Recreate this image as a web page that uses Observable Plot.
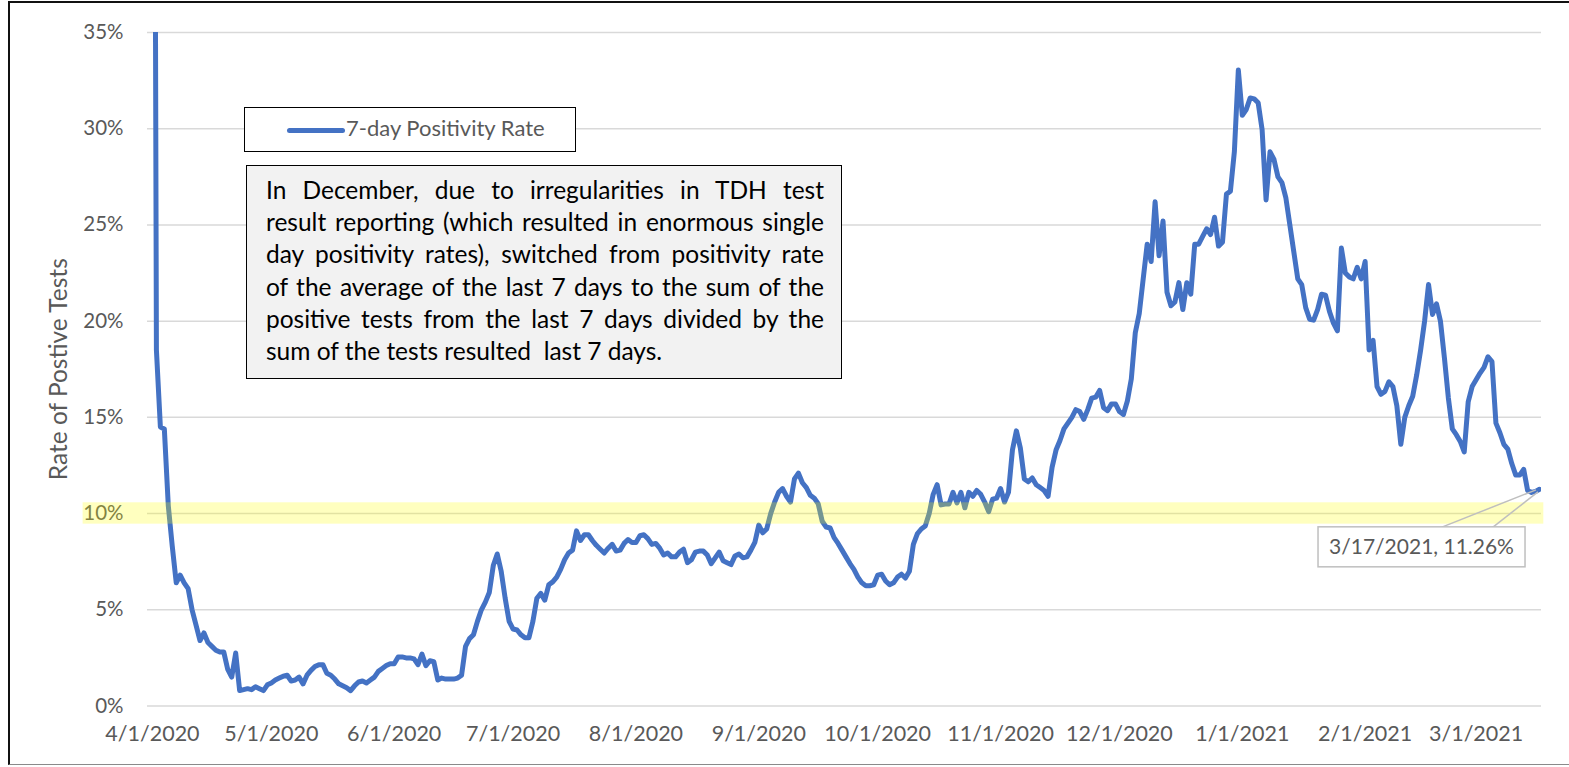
<!DOCTYPE html>
<html>
<head>
<meta charset="utf-8">
<script src="https://cdn.jsdelivr.net/npm/d3@7"></script>
<script src="https://cdn.jsdelivr.net/npm/@observablehq/plot@0.6"></script>
<style>
  html, body { margin: 0; padding: 0; background: #fff; }
  #wrap { position: relative; width: 1569px; height: 767px; overflow: hidden; font-family: Lato, "Open Sans", sans-serif; }
  #wrap svg { position: absolute; left: 0; top: 0; }
  .border { position: absolute; left: 8px; top: 1px; width: 1620px; height: 761px;
            border-left: 2px solid #111; border-top: 2px solid #111; border-bottom: 1.5px solid #8a8a8a; pointer-events: none; }
  .legend { position: absolute; left: 244px; top: 107px; width: 330px; height: 43px; border: 1.5px solid #000; background: #fff; }
  .legend .sw { position: absolute; left: 42px; top: 19.5px; width: 58px; height: 5px; background: #4472C4; border-radius: 2.5px; }
  .legend .lb { position: absolute; left: 101px; top: 7px; font-size: 22px; line-height: 1.2; color: #595959; white-space: nowrap; }
  .note { position: absolute; left: 246px; top: 165px; width: 594px; height: 212px; border: 1.5px solid #000; background: #f2f2f2; }
  .note .txt { position: absolute; left: 19px; top: 8px; width: 558px; font-size: 24.5px; line-height: 32.2px; color: #000; }
  .note .ln { white-space: nowrap; text-align: justify; text-align-last: justify; }
  .note .ln.last { text-align-last: left; }
</style>
</head>
<body>
<div id="wrap"></div>
<script>
// ---- data ----
const startDate = "2020-04-01";           // first day of the series (daily)
// 7-day positivity rate, percent, one value per day from 4/1/2020 to 3/17/2021
const rate = [
  90, 18.5, 14.5, 14.4, 10.4, 8.3, 6.4, 6.8, 6.4, 6.1,            // 0-9
  5.0, 4.2, 3.4, 3.8, 3.3, 3.1, 2.9, 2.8, 2.8, 1.9,               // 10-19
  1.5, 2.75, 0.8, 0.85, 0.9, 0.85, 1.0, 0.9, 0.8, 1.1,            // 20-29
  1.2, 1.35, 1.45, 1.55, 1.6, 1.3, 1.35, 1.5, 1.15, 1.6,          // 30-39
  1.85, 2.05, 2.15, 2.15, 1.7, 1.6, 1.4, 1.15, 1.05, 0.95,        // 40-49
  0.8, 1.05, 1.25, 1.3, 1.2, 1.35, 1.5, 1.8, 1.95, 2.1,           // 50-59
  2.2, 2.2, 2.55, 2.55, 2.5, 2.5, 2.45, 2.15, 2.7, 2.1,           // 60-69
  2.35, 2.3, 1.35, 1.45, 1.4, 1.4, 1.4, 1.45, 1.6, 3.1,           // 70-79
  3.5, 3.7, 4.4, 5.0, 5.4, 5.9, 7.3, 7.9, 7.0, 5.6,               // 80-89
  4.4, 4.0, 3.95, 3.7, 3.55, 3.55, 4.4, 5.6, 5.85, 5.5,           // 90-99
  6.3, 6.45, 6.7, 7.1, 7.6, 7.95, 8.1, 9.1, 8.6, 8.9,             // 100-109
  8.9, 8.6, 8.35, 8.15, 7.95, 8.2, 8.4, 8.05, 8.1, 8.45,          // 110-119
  8.65, 8.5, 8.5, 8.85, 8.9, 8.7, 8.4, 8.45, 8.2, 7.85,           // 120-129
  7.95, 7.75, 7.75, 8.0, 8.15, 7.45, 7.6, 8.0, 8.05, 8.05,        // 130-139
  7.85, 7.4, 7.7, 8.0, 7.55, 7.45, 7.35, 7.8, 7.9, 7.7,           // 140-149
  7.75, 8.1, 8.5, 9.4, 9.0, 9.2, 10.0, 10.6, 11.1, 11.3,          // 150-159
  10.9, 10.6, 11.8, 12.1, 11.6, 11.35, 10.95, 10.8, 10.5, 9.6,    // 160-169
  9.3, 9.25, 8.75, 8.45, 8.1, 7.75, 7.4, 7.1, 6.7, 6.4,           // 170-179
  6.25, 6.25, 6.3, 6.8, 6.85, 6.5, 6.3, 6.4, 6.7, 6.85,           // 180-189
  6.65, 7.0, 8.4, 8.95, 9.2, 9.35, 10.0, 11.0, 11.5, 10.45,       // 190-199
  10.5, 10.5, 11.1, 10.55, 11.1, 10.3, 11.1, 10.9, 11.2, 11.0,    // 200-209
  10.6, 10.1, 10.75, 10.8, 11.3, 10.6, 11.1, 13.3, 14.3, 13.4,    // 210-219
  11.8, 11.65, 11.85, 11.5, 11.35, 11.2, 10.9, 12.4, 13.3, 13.8,  // 220-229
  14.4, 14.7, 15.0, 15.4, 15.3, 14.9, 15.4, 16.0, 16.05, 16.4,    // 230-239
  15.5, 15.35, 15.7, 15.7, 15.3, 15.15, 15.85, 17.0, 19.4, 20.4,  // 240-249
  22.2, 24.0, 23.1, 26.2, 23.4, 25.2, 21.5, 20.8, 21.0, 22.0,     // 250-259
  20.6, 22.0, 21.4, 24.0, 24.0, 24.4, 24.8, 24.5, 25.4, 23.9,     // 260-269
  24.1, 26.6, 26.75, 28.8, 33.05, 30.7, 31.0, 31.6, 31.55, 31.35, // 270-279
  29.95, 26.3, 28.8, 28.4, 27.5, 27.2, 26.4, 25.0, 23.6, 22.2,    // 280-289
  21.9, 20.7, 20.1, 20.05, 20.6, 21.4, 21.35, 20.5, 19.9, 19.5,   // 290-299
  23.8, 22.5, 22.3, 22.2, 22.8, 22.2, 23.1, 18.5, 19.0, 16.6,     // 300-309
  16.2, 16.35, 16.85, 16.6, 15.6, 13.6, 15.0, 15.6, 16.1, 17.2,   // 310-319
  18.5, 20.0, 21.9, 20.35, 20.9, 20.0, 18.1, 16.0, 14.4, 14.1,    // 320-329
  13.75, 13.2, 15.8, 16.6, 16.95, 17.3, 17.6, 18.15, 17.9, 14.7,  // 330-339
  14.2, 13.6, 13.35, 12.6, 12.0, 12.0, 12.3, 11.2, 11.1, 11.15,   // 340-349
  11.26                                                            // 350
];
const monthTicks = ["2020-04-01","2020-05-01","2020-06-01","2020-07-01","2020-08-01","2020-09-01",
                    "2020-10-01","2020-11-01","2020-12-01","2021-01-01","2021-02-01","2021-03-01"];
const yTicks = [0, 0.05, 0.10, 0.15, 0.20, 0.25, 0.30, 0.35];
const xDomain = ["2020-03-30T18:00Z", "2021-03-17T12:00Z"];
// highlighted 10% band (annotation)
const bandLow = [0.0945];
const bandHigh = [0.1056];
const bandFrom = ["2020-03-14T12:00Z"];
const bandTo = ["2021-03-18T02:00Z"];
const yTitle = "Rate of Postive Tests";
const seriesName = "7-day Positivity Rate";
const noteLines = [
  "In December, due to irregularities in TDH test",
  "result reporting (which resulted in enormous single",
  "day positivity rates), switched from positivity rate",
  "of the average of the last 7 days to the sum of the",
  "positive tests from the last 7 days divided by the",
  "sum of the tests resulted\u00a0 last 7 days."
];

// ---- build ----
const start = new Date(startDate + "T00:00Z");
const data = rate.map((v, i) => ({ date: d3.utcDay.offset(start, i), value: v / 100 }));
const band = bandLow.map((lo, i) => ({ lo, hi: bandHigh[i], from: new Date(bandFrom[i]), to: new Date(bandTo[i]) }));
const fmtDate = d => `${d.getUTCMonth() + 1}/${d.getUTCDate()}/${d.getUTCFullYear()}`;
const gray = "#595959";

const chart = Plot.plot({
  width: 1569, height: 767,
  marginLeft: 147, marginRight: 28, marginTop: 32, marginBottom: 61.5,
  style: { fontFamily: "Lato, 'Open Sans', sans-serif", fontSize: "20.5px", background: "transparent", color: gray },
  x: { type: "utc", domain: xDomain.map(d => new Date(d)) },
  y: { domain: [0, 0.35] },
  marks: [
    Plot.ruleY(yTicks, { stroke: "#d9d9d9", strokeWidth: 1.5 }),
    Plot.axisY({ ticks: yTicks, tickFormat: d3.format(".0%"), tickSize: 0, tickPadding: 24, label: null, color: gray, fontSize: 20.5 }),
    Plot.axisX({ ticks: monthTicks.map(d => new Date(d + "T00:00Z")), tickFormat: fmtDate, tickSize: 0, tickPadding: 20, label: null, color: gray, fontSize: 21.5 }),
    Plot.text([yTitle], { text: d => d, frameAnchor: "left", textAnchor: "middle", dx: -88, rotate: -90, fill: gray, fontSize: 24.5 }),
    Plot.line(data, { x: "date", y: "value", stroke: "#4472C4", strokeWidth: 5, strokeLinejoin: "round", strokeLinecap: "round", clip: true }),
    Plot.rect(band, { x1: "from", x2: "to", y1: "lo", y2: "hi", fill: "#ffff00", fillOpacity: 0.25 })
  ]
});

const wrap = document.getElementById("wrap");
wrap.appendChild(chart);

// callout for the last point, positioned through the plot's scales
const last = data[data.length - 1];
const px = chart.scale("x").apply(last.date);
const py = chart.scale("y").apply(last.value);
const svg = d3.select(chart);
const g = svg.append("g");
g.append("line").attr("x1", px - 99).attr("y1", py + 39).attr("x2", px - 3).attr("y2", py + 1)
  .attr("stroke", "#bfbfbf").attr("stroke-width", 1.5);
g.append("line").attr("x1", px - 47).attr("y1", py + 39).attr("x2", px - 1).attr("y2", py + 3)
  .attr("stroke", "#bfbfbf").attr("stroke-width", 1.5);
g.append("rect").attr("x", px - 221).attr("y", py + 38).attr("width", 207).attr("height", 40)
  .attr("fill", "#fff").attr("stroke", "#bfbfbf").attr("stroke-width", 1.5);
g.append("text").attr("x", px - 117.5).attr("y", py + 58).attr("dy", "0.35em")
  .attr("text-anchor", "middle").attr("fill", gray).attr("font-size", 21)
  .text(`${fmtDate(last.date)}, ${(last.value * 100).toFixed(2)}%`);

// legend
const legend = document.createElement("div");
legend.className = "legend";
legend.innerHTML = `<div class="sw"></div><div class="lb"></div>`;
legend.querySelector(".lb").textContent = seriesName;
wrap.appendChild(legend);

// note box
const note = document.createElement("div");
note.className = "note";
const txt = document.createElement("div");
txt.className = "txt";
noteLines.forEach((l, i) => {
  const d = document.createElement("div");
  d.className = "ln" + (i === noteLines.length - 1 ? " last" : "");
  d.textContent = l;
  txt.appendChild(d);
});
note.appendChild(txt);
wrap.appendChild(note);

const border = document.createElement("div");
border.className = "border";
wrap.appendChild(border);
</script>
</body>
</html>
